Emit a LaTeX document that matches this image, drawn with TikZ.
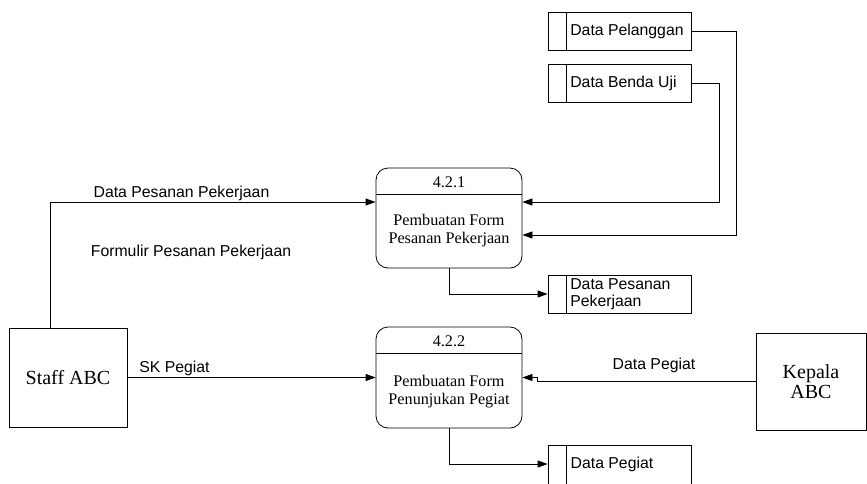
\documentclass[tikz,border=0pt]{standalone}
\usepackage{fontspec}
\setmainfont{Liberation Serif}
\setsansfont{Liberation Sans}
\usetikzlibrary{arrows.meta}

\tikzset{
  base/.style={line width=0.8pt},
  procbox/.style={base, draw, rounded corners=12pt, minimum width=146pt, minimum height=100pt, inner sep=0pt,
    path picture={\draw[base] ([yshift=-26pt]path picture bounding box.north west) -- ([yshift=-26pt]path picture bounding box.north east);}},
  proctxt/.style={font=\fontsize{16.2}{18}\selectfont, align=center, inner sep=0pt},
  storebox/.style={base, draw, minimum width=143pt, minimum height=38pt, inner sep=0pt,
    path picture={\draw[base] ([xshift=18pt]path picture bounding box.north west) -- ([xshift=18pt]path picture bounding box.south west);}},
  storetxt/.style={font=\sffamily\fontsize{15.8}{16.5}\selectfont, align=left, anchor=west, inner sep=0pt},
  entity/.style={base, draw, inner sep=0pt, font=\fontsize{20}{20.5}\selectfont, align=center},
  flowlbl/.style={font=\sffamily\fontsize{15.8}{17}\selectfont, inner sep=0pt},
  flow/.style={base, draw, -{Triangle[length=10pt,width=7pt]}},
  link/.style={base, draw}
}

\begin{document}
\begin{tikzpicture}[x=1pt, y=-1pt]
\clip (0,0) rectangle (867,483);

% processes
\node[procbox] (p1) at (449,218) {};
\node[proctxt] (p1n) at (449,182) {4.2.1};
\node[proctxt] (p1t) at (449,231) {Pembuatan Form\\Pesanan Pekerjaan};

\node[procbox, minimum height=101pt] (p2) at (449,377.5) {};
\node[proctxt] (p2n) at (449,341) {4.2.2};
\node[proctxt] (p2t) at (449,391.5) {Pembuatan Form\\Penunjukan Pegiat};

% data stores
\node[storebox] (s1) at (619.5,31) {};
\node[storetxt] (s1t) at ([xshift=22.5pt]s1.west) {Data Pelanggan};
\node[storebox] (s2) at (619.5,83) {};
\node[storetxt] (s2t) at ([xshift=22.5pt]s2.west) {Data Benda Uji};
\node[storebox] (s3) at (619.5,294) {};
\node[storetxt] (s3t) at ([xshift=22.5pt]s3.west) {Data Pesanan\\Pekerjaan};
% the last store runs past the lower edge
\node[storebox, minimum height=44pt] (s4) at (619.5,467) {};
\node[storetxt] (s4t) at (570.5,464) {Data Pegiat};

% external entities
\node[entity, minimum width=118pt, minimum height=99pt] (staff) at (68,377.5) {Staff ABC};
\node[entity, minimum width=110pt, minimum height=97pt] (kepala) at (811,381.5) {Kepala\\ABC};

% flows
\draw[flow] ([xshift=-18pt]staff.north) |- ([yshift=16pt]p1.west);
\draw[flow] (s2.east) -- ++(28,0) |- ([yshift=16pt]p1.east);
\draw[flow] (s1.east) -- ++(45,0) |- ([yshift=-17pt]p1.east);
\draw[flow] (p1.south) |- (s3.west);
\draw[flow] (staff.east) -- (p2.west);
\draw[flow] (kepala.west) -- ++(-218,0) |- (p2.east);
\draw[flow] (p2.south) |- (s4t.west -| s4.west);

% flow labels
\node[flowlbl] (l1) at (181.5,193) {Data Pesanan Pekerjaan};
\node[flowlbl] (l2) at (191,252) {Formulir Pesanan Pekerjaan};
\node[flowlbl] (l3) at (174.5,368) {SK Pegiat};
\node[flowlbl] (l4) at (654,365) {Data Pegiat};
\end{tikzpicture}
\end{document}
